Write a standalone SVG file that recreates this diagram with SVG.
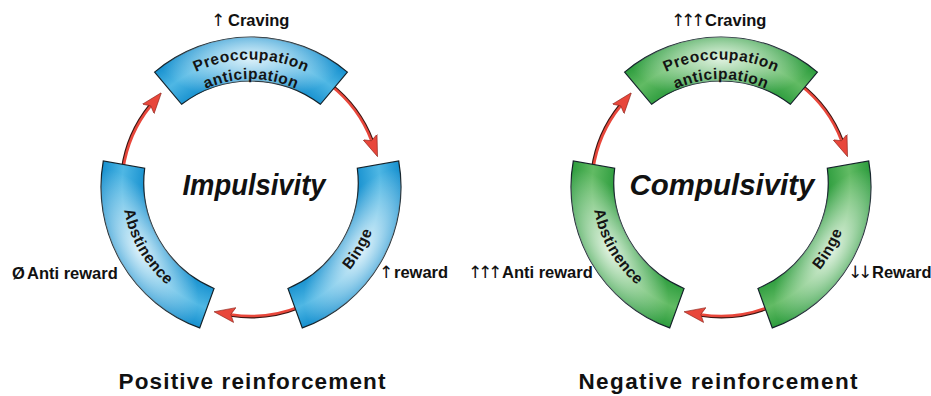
<svg xmlns="http://www.w3.org/2000/svg" xmlns:xlink="http://www.w3.org/1999/xlink" width="931" height="396" viewBox="0 0 931 396">
<style>
.lbl{font-family:"Liberation Sans",Arial,"DejaVu Sans",sans-serif;font-weight:bold;font-size:16.5px;fill:#111}
.arr{font-family:"DejaVu Sans",sans-serif;font-weight:normal;font-size:17px}
.title{font-family:"Liberation Sans",Arial,sans-serif;font-weight:bold;font-style:italic;font-size:29px;fill:#111}
.sub{font-family:"Liberation Sans",Arial,sans-serif;font-weight:bold;font-size:22.5px;fill:#111}
.segtxt{font-family:"Liberation Sans",Arial,sans-serif;font-weight:bold;font-size:15.5px;letter-spacing:0.5px;fill:#141414}
.outline{stroke:#14222a;stroke-width:1.2}
.sh{fill:none;stroke:#3a1512;stroke-width:2.2}
.red{fill:none;stroke:#e8473b;stroke-width:2.6;marker-end:url(#head)}
</style>
<defs>
<radialGradient id="bandBlue" gradientUnits="userSpaceOnUse" cx="0" cy="0" r="150">
<stop offset="0.70" stop-color="#1690cf"/>
<stop offset="0.86" stop-color="#4fb7e4"/>
<stop offset="1" stop-color="#1690cf"/>
</radialGradient>
<radialGradient id="bandGreen" gradientUnits="userSpaceOnUse" cx="0" cy="0" r="150">
<stop offset="0.70" stop-color="#2c9c3d"/>
<stop offset="0.86" stop-color="#62bb64"/>
<stop offset="1" stop-color="#2c9c3d"/>
</radialGradient>
<radialGradient id="spot" gradientUnits="userSpaceOnUse" cx="0" cy="-128" r="70" gradientTransform="translate(0 -128) scale(1.3 0.6) translate(0 128)">
<stop offset="0" stop-color="#ffffff" stop-opacity="0.8"/>
<stop offset="1" stop-color="#ffffff" stop-opacity="0"/>
</radialGradient>
<path id="seg" d="M -96.4 -114.9 A 150 150 0 0 1 96.4 -114.9 L 69.4 -82.7 A 115 115 0 0 0 -69.4 -82.7 Z"/>
<path id="tpOuter" fill="none" d="M -110.4 -63.75 A 127.5 127.5 0 0 1 110.4 -63.75"/>
<path id="tpInner" fill="none" d="M -93.5 -54 A 108 108 0 0 1 93.5 -54"/>
<path id="tpCCW" fill="none" d="M 111.7 -64.5 A 129 129 0 0 0 -111.7 -64.5"/>
<marker id="head" markerUnits="userSpaceOnUse" viewBox="0 0 21 16" refX="4" refY="8" markerWidth="21" markerHeight="16" orient="auto">
<path d="M0,0.5 L21,8 L0,15.5 L4,8 Z" fill="#e8473b" stroke="#8a2219" stroke-width="0.6"/>
</marker>
</defs>

<g id="connectors">
<g transform="translate(251 187)">
<path class="sh" d="M -129.03 -18.13 A 130.3 130.3 0 0 1 -101.26 -82.0"/>
<path class="red" d="M -127.75 -17.95 A 129 129 0 0 1 -100.25 -81.18"/>
<g transform="rotate(120)">
<path class="sh" d="M -129.03 -18.13 A 130.3 130.3 0 0 1 -101.26 -82.0"/>
<path class="red" d="M -127.75 -17.95 A 129 129 0 0 1 -100.25 -81.18"/>
</g>
<g transform="rotate(240)">
<path class="sh" d="M -129.03 -18.13 A 130.3 130.3 0 0 1 -101.26 -82.0"/>
<path class="red" d="M -127.75 -17.95 A 129 129 0 0 1 -100.25 -81.18"/>
</g>
</g>
<g transform="translate(721 187)">
<path class="sh" d="M -129.03 -18.13 A 130.3 130.3 0 0 1 -101.26 -82.0"/>
<path class="red" d="M -127.75 -17.95 A 129 129 0 0 1 -100.25 -81.18"/>
<g transform="rotate(120)">
<path class="sh" d="M -129.03 -18.13 A 130.3 130.3 0 0 1 -101.26 -82.0"/>
<path class="red" d="M -127.75 -17.95 A 129 129 0 0 1 -100.25 -81.18"/>
</g>
<g transform="rotate(240)">
<path class="sh" d="M -129.03 -18.13 A 130.3 130.3 0 0 1 -101.26 -82.0"/>
<path class="red" d="M -127.75 -17.95 A 129 129 0 0 1 -100.25 -81.18"/>
</g>
</g>
</g>

<!-- Left ring: Impulsivity -->
<g id="imp-preoccupation" transform="translate(251 187)">
<use href="#seg" xlink:href="#seg" fill="url(#bandBlue)" class="outline"/>
<use href="#seg" xlink:href="#seg" fill="url(#spot)"/>
<text class="segtxt"><textPath href="#tpOuter" xlink:href="#tpOuter" startOffset="50%" text-anchor="middle">Preoccupation</textPath><textPath href="#tpInner" xlink:href="#tpInner" startOffset="50%" text-anchor="middle">anticipation</textPath></text>
</g>
<g id="imp-binge" transform="translate(251 187) rotate(120)">
<use href="#seg" xlink:href="#seg" fill="url(#bandBlue)" class="outline"/>
<use href="#seg" xlink:href="#seg" fill="url(#spot)"/>
<text class="segtxt"><textPath href="#tpCCW" xlink:href="#tpCCW" startOffset="50%" text-anchor="middle">Binge</textPath></text>
</g>
<g id="imp-abstinence" transform="translate(251 187) rotate(240)">
<use href="#seg" xlink:href="#seg" fill="url(#bandBlue)" class="outline"/>
<use href="#seg" xlink:href="#seg" fill="url(#spot)"/>
<text class="segtxt"><textPath href="#tpCCW" xlink:href="#tpCCW" startOffset="50%" text-anchor="middle">Abstinence</textPath></text>
</g>

<!-- Right ring: Compulsivity -->
<g id="comp-preoccupation" transform="translate(721 187)">
<use href="#seg" xlink:href="#seg" fill="url(#bandGreen)" class="outline"/>
<use href="#seg" xlink:href="#seg" fill="url(#spot)"/>
<text class="segtxt"><textPath href="#tpOuter" xlink:href="#tpOuter" startOffset="50%" text-anchor="middle">Preoccupation</textPath><textPath href="#tpInner" xlink:href="#tpInner" startOffset="50%" text-anchor="middle">anticipation</textPath></text>
</g>
<g id="comp-binge" transform="translate(721 187) rotate(120)">
<use href="#seg" xlink:href="#seg" fill="url(#bandGreen)" class="outline"/>
<use href="#seg" xlink:href="#seg" fill="url(#spot)"/>
<text class="segtxt"><textPath href="#tpCCW" xlink:href="#tpCCW" startOffset="50%" text-anchor="middle">Binge</textPath></text>
</g>
<g id="comp-abstinence" transform="translate(721 187) rotate(240)">
<use href="#seg" xlink:href="#seg" fill="url(#bandGreen)" class="outline"/>
<use href="#seg" xlink:href="#seg" fill="url(#spot)"/>
<text class="segtxt"><textPath href="#tpCCW" xlink:href="#tpCCW" startOffset="50%" text-anchor="middle">Abstinence</textPath></text>
</g>

<g id="labels">
<text class="title" x="254" y="195" text-anchor="middle" textLength="143" lengthAdjust="spacingAndGlyphs">Impulsivity</text>
<text class="title" x="722" y="195" text-anchor="middle" textLength="185" lengthAdjust="spacingAndGlyphs">Compulsivity</text>
<text class="lbl" y="26"><tspan class="arr" x="211">↑</tspan><tspan x="228">Craving</tspan></text>
<text class="lbl" y="26"><tspan class="arr" x="671 681 691">↑↑↑</tspan><tspan x="705">Craving</tspan></text>
<text class="lbl" y="279"><tspan x="12">Ø</tspan><tspan x="27">Anti reward</tspan></text>
<text class="lbl" y="278"><tspan class="arr" x="379">↑</tspan><tspan x="394">reward</tspan></text>
<text class="lbl" y="278"><tspan class="arr" x="468 478 488">↑↑↑</tspan><tspan x="502">Anti reward</tspan></text>
<text class="lbl" y="278"><tspan class="arr" x="848 858">↓↓</tspan><tspan x="872">Reward</tspan></text>
<text class="sub" x="252" y="389" text-anchor="middle" textLength="267" lengthAdjust="spacing">Positive reinforcement</text>
<text class="sub" x="718" y="389" text-anchor="middle" textLength="279" lengthAdjust="spacing">Negative reinforcement</text>
</g>
</svg>
